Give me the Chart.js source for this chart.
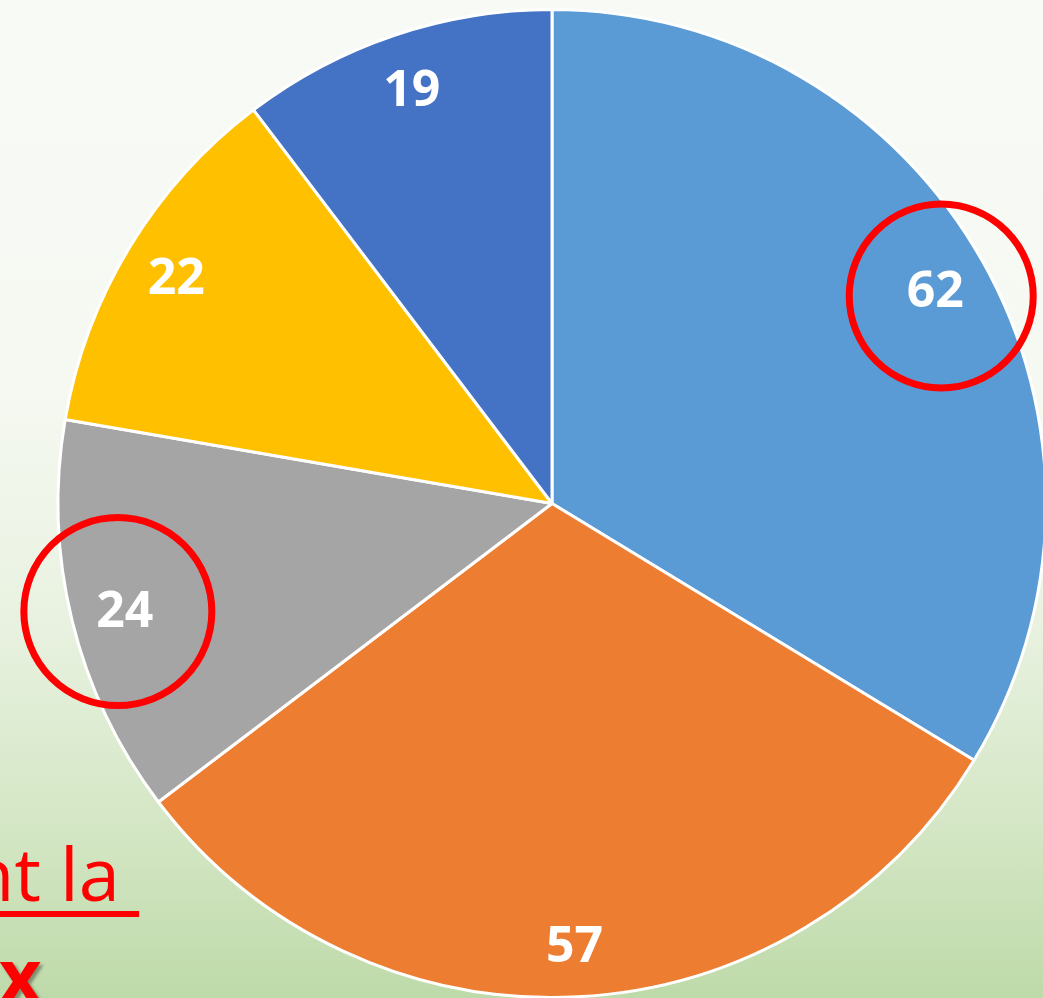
<!DOCTYPE html>
<html>
<head>
<meta charset="utf-8">
<script src="https://cdn.jsdelivr.net/npm/chart.js@4"></script>
<style>
    html, body {
        margin: 0;
        padding: 0;
        width: 1043px;
        height: 998px;
        overflow: hidden;
    }
    body {
        position: relative;
        background: linear-gradient(to bottom, #f8faf6 0%, #f6f9f2 38%, #e9f2e1 62%, #d5e7c6 82%, #bedaa9 100%);
        font-family: "Open Sans", sans-serif;
    }
    #wrap {
        position: absolute;
        left: 0;
        top: 0;
        width: 1104px;
        height: 1006px;
    }
    .note {
        position: absolute;
        color: #ff0000;
        white-space: pre;
        line-height: 1;
    }
    #note1 {
        left: -72px;
        top: 836px;
        font-size: 74px;
        text-decoration: underline;
        text-decoration-thickness: 6px;
        text-underline-offset: 10px;
    }
    #note2 {
        left: -50px;
        top: 937px;
        font-size: 74px;
        font-weight: 700;
        text-shadow: 3px 3px 3px rgba(0, 0, 0, 0.35);
    }
</style>
</head>
<body>
<div class="note" id="note1">ant la </div>
<div class="note" id="note2">ux</div>
<div id="wrap"><canvas id="pieChart"></canvas></div>
<script>
const labels = ['A', 'B', 'C', 'D', 'E'];
const values = [62, 57, 24, 22, 19];
const colors = ['#5b9bd5', '#ed7d31', '#a5a5a5', '#ffc000', '#4472c4'];
// slices circled in red on the original: [dx, dy, radius]
const circled = {0: [6, 3, 92], 2: [-7, -1, 94]};

const sliceLabels = {
    id: 'sliceLabels',
    afterDatasetsDraw(chart) {
        const c = chart.ctx;
        const arcs = chart.getDatasetMeta(0).data;
        c.save();
        arcs.forEach((arc, i) => {
            const p = arc.getProps(['x', 'y', 'startAngle', 'endAngle', 'outerRadius']);
            const mid = (p.startAngle + p.endAngle) / 2;
            const r = p.outerRadius * 0.89;
            const lx = p.x + Math.cos(mid) * r;
            const ly = p.y + Math.sin(mid) * r + 5;
            c.fillStyle = '#ffffff';
            c.font = 'bold 50px "Open Sans"';
            c.textAlign = 'center';
            c.textBaseline = 'middle';
            c.fillText(values[i], lx, ly);
            if (circled[i]) {
                const [dx, dy, cr] = circled[i];
                c.beginPath();
                c.strokeStyle = '#ff0000';
                c.lineWidth = 7;
                c.arc(lx + dx, ly + dy, cr, 0, Math.PI * 2);
                c.stroke();
            }
        });
        c.restore();
    }
};

new Chart(document.getElementById('pieChart'), {
    type: 'pie',
    data: {
        labels: labels,
        datasets: [{
            data: values,
            backgroundColor: colors,
            borderColor: '#ffffff',
            borderWidth: 3
        }]
    },
    options: {
        responsive: true,
        maintainAspectRatio: false,
        animation: false,
        layout: {
            padding: { top: 8, bottom: 7, left: 0, right: 0 }
        },
        plugins: {
            legend: { display: false },
            tooltip: { enabled: false }
        }
    },
    plugins: [sliceLabels]
});
</script>
</body>
</html>
